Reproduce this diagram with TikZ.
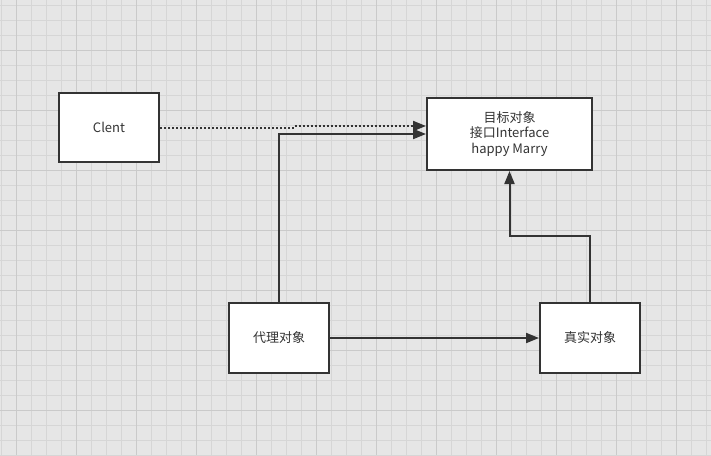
\documentclass[tikz,border=0pt]{standalone}
\usepackage{fontspec}
\setmainfont{Noto Sans CJK SC}
\usetikzlibrary{arrows.meta}
\definecolor{paper}{RGB}{230,230,230}
\definecolor{gridminor}{RGB}{214,214,214}
\definecolor{gridmajor}{RGB}{202,202,202}
\definecolor{ink}{RGB}{51,51,51}
\tikzset{
  box/.style={draw=ink, fill=white, line width=2pt, text=ink,
    font=\fontsize{13}{15.6}\selectfont, align=center},
  link/.style={draw=ink, line width=2pt, -{Triangle[length=13pt,width=10pt]}},
  dotlink/.style={link, dash pattern=on 2pt off 2pt}
}
\begin{document}
\begin{tikzpicture}[x=1pt,y=-1pt]
  \useasboundingbox (0,0) rectangle (711,455);
  \fill[paper] (0,0) rectangle (711,455);
  \foreach \x in {1.7,16.7,...,711} \draw[gridminor,line width=0.8pt] (\x,0) -- (\x,455);
  \foreach \y in {5,20,...,455} \draw[gridminor,line width=0.8pt] (0,\y) -- (711,\y);
  \foreach \x in {16.7,76.7,...,711} \draw[gridmajor,line width=0.8pt] (\x,0) -- (\x,455);
  \foreach \y in {50,110,...,455} \draw[gridmajor,line width=0.8pt] (0,\y) -- (711,\y);

  \node[box, minimum width=100, minimum height=69] (clent) at (109,127.5) {Clent};
  \node[box, minimum width=165, minimum height=72] (target) at (509.5,134)
    {目标对象\\接口Interface\\happy Marry};
  \node[box, minimum width=100, minimum height=70] (proxy) at (279,338) {代理对象};
  \node[box, minimum width=100, minimum height=70] (real) at (590,338) {真实对象};

  \draw[dotlink] (clent.east) -- ++(133,0) |- ([yshift=8]target.west);
  \draw[link] (proxy.north) |- (target.west);
  \draw[link] (proxy.east) -- (real.west);
  \draw[link] (real.north) -- ++(0,-66) -| (target.south);
\end{tikzpicture}
\end{document}
